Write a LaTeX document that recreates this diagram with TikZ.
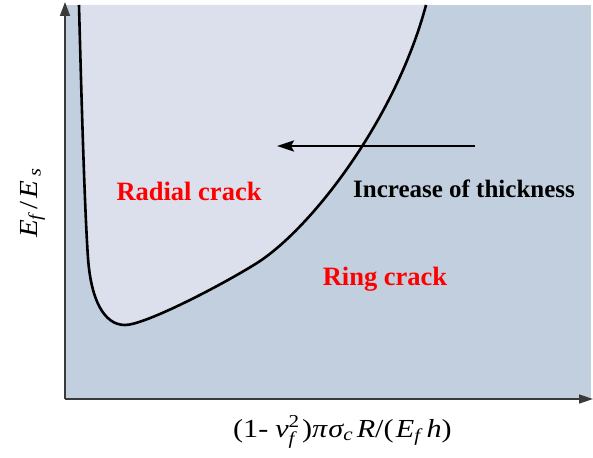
\documentclass[tikz,border=0pt]{standalone}
\usepackage{amsmath}
\usepackage{graphicx}
\usepackage{fontspec}
\setmainfont{Liberation Serif}
\usetikzlibrary{arrows.meta}
\definecolor{bgblue}{HTML}{C1CFDF}
\definecolor{lightreg}{HTML}{DCE0EC}
\definecolor{axisgray}{HTML}{3A3A3A}
\definecolor{labred}{HTML}{FF0000}
\tikzset{
  axisline/.style={line width=1.6pt, draw=axisgray},
  curveline/.style={line width=2.6pt, black, line join=round},
  redlabel/.style={text=labred, font=\fontsize{26.5}{30}\selectfont\bfseries, inner sep=0pt},
  blacklabel/.style={text=black, font=\fontsize{25}{30}\selectfont\bfseries, inner sep=0pt},
  axislabel/.style={font=\fontsize{26}{30}\selectfont, inner sep=0pt},
  thickarrow/.style={line width=2.4pt, -{Stealth[length=17pt,width=11pt,inset=3pt]}}
}
\newcommand{\boundarypath}{(79,5) .. controls (82,120) and (85,215) .. (88,258)
  .. controls (91,300) and (104,325) .. (125,325)
  .. controls (145,325) and (222,285) .. (257,263)
  .. controls (312,228) and (396,118) .. (426,5)}
\begin{document}
\begin{tikzpicture}[x=1pt,y=-1pt]
\useasboundingbox (0,0) rectangle (593,457);
% background region (ring crack)
\fill[bgblue] (65,5) rectangle (591,399);
% light region (radial crack)
\fill[lightreg] \boundarypath -- cycle;
% curve
\draw[curveline] \boundarypath;
% axes
\coordinate (origin) at (65,399);
\coordinate (ytip) at (65,2);
\coordinate (xtip) at (593,399);
\draw[axisline, -{Triangle[length=14pt,width=10pt]}] (origin) -- (ytip);
\draw[axisline, -{Triangle[length=14pt,width=9pt]}] (origin) -- (xtip);
% arrow
\coordinate (arrstart) at (475,146);
\coordinate (arrend) at (277,146);
\draw[thickarrow] (arrstart) -- (arrend);
% labels
\node[redlabel] (radial) at (189,191) {Radial crack};
\node[redlabel] (ring) at (385,279) {Ring crack};
\node[blacklabel] (incr) at (464,189) {Increase of thickness};
\node[axislabel, anchor=base west] (xlab) at (233,437) {\scalebox{1.16}[1]{$\text{(1-}\hspace{6pt}\textit{ν}^{\text{2}}_{\textit{f}}\hspace{2pt}\text{)}\textit{π}\hspace{1pt}\textit{σ}_{\textit{c}}\hspace{3pt}\textit{R}\text{/(}\hspace{2pt}\textit{E}_{\textit{f}}\hspace{5pt}\textit{h}\text{)}$}};
\node[axislabel, rotate=90, anchor=base west] (ylab) at (37,238) {\scalebox{1.12}[1]{$\textit{E}_{\textit{f}}\hspace{4pt}\text{/}\hspace{2pt}\textit{E}_{\hspace{4pt}\textit{s}}$}};
\end{tikzpicture}
\end{document}
